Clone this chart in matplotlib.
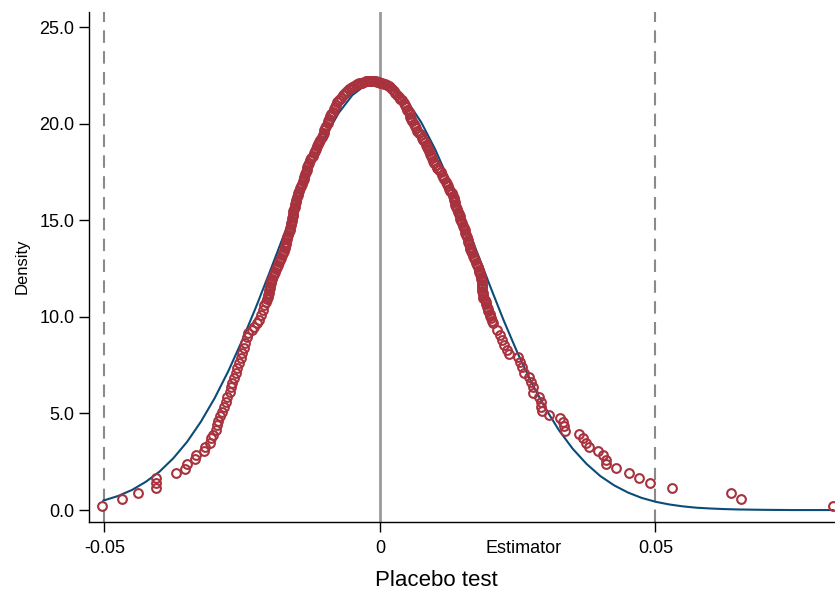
import matplotlib.pyplot as plt
import numpy as np

plt.rcParams['font.family'] = ['Liberation Sans', 'DejaVu Sans']

# placebo estimates (x) and their kernel density (y)
left_x = [-0.0504, -0.0468, -0.0439, -0.0407, -0.0407, -0.0407, -0.0371, -0.0353, -0.0350,
          -0.0336, -0.0333, -0.0319, -0.0317, -0.0309, -0.0306, -0.0303, -0.0298, -0.0296,
          -0.0293, -0.0290, -0.0287, -0.0283, -0.0279, -0.0277, -0.0273, -0.0271, -0.0268,
          -0.0265, -0.0262, -0.0259, -0.0255, -0.0253, -0.0250, -0.0247, -0.0244, -0.0242,
          -0.0239, -0.0233, -0.0229, -0.0224, -0.0219, -0.0215, -0.0213, -0.0210, -0.0207]
left_y = [0.22, 0.55, 0.86, 1.12, 1.38, 1.64, 1.90, 2.12, 2.38,
          2.62, 2.85, 3.05, 3.28, 3.45, 3.71, 3.88, 4.14, 4.40,
          4.62, 4.87, 5.09, 5.35, 5.61, 5.86, 6.12, 6.35, 6.59,
          6.85, 7.08, 7.33, 7.59, 7.85, 8.11, 8.37, 8.63, 8.97,
          9.15, 9.32, 9.49, 9.66, 9.83, 10.09, 10.35, 10.61, 10.78]

# dense central band, left flank up to the peak
core_left_x = [-0.0205, -0.0204, -0.0203, -0.0202, -0.0201, -0.0200, -0.0199, -0.0198, -0.0197,
               -0.0196, -0.0194, -0.0192, -0.0190, -0.0189, -0.0187, -0.0185, -0.0183, -0.0181,
               -0.0179, -0.0177, -0.0175, -0.0174, -0.0173, -0.0172, -0.0171, -0.0170, -0.0169,
               -0.0168, -0.0166, -0.0165, -0.0164, -0.0163, -0.0162, -0.0161, -0.0160, -0.0159,
               -0.0158, -0.0158, -0.0157, -0.0156, -0.0155, -0.0154, -0.0153, -0.0152, -0.0151,
               -0.0149, -0.0148, -0.0147, -0.0145, -0.0143, -0.0141, -0.0139, -0.0138, -0.0137,
               -0.0136, -0.0134, -0.0133, -0.0132, -0.0131, -0.0129, -0.0127, -0.0125, -0.0122,
               -0.0120, -0.0118, -0.0116, -0.0114, -0.0112, -0.0110, -0.0108, -0.0106, -0.0104,
               -0.0102, -0.0101, -0.0099, -0.0097, -0.0095, -0.0094, -0.0092, -0.0090, -0.0088,
               -0.0086, -0.0083, -0.0081, -0.0079, -0.0077, -0.0074, -0.0070, -0.0067, -0.0063,
               -0.0059, -0.0056, -0.0053, -0.0050, -0.0047, -0.0044, -0.0041, -0.0038, -0.0035,
               -0.0032, -0.0029, -0.0026, -0.0023, -0.0020, -0.0017, -0.0014, -0.0011, -0.0008]
core_left_y = [10.90, 11.02, 11.14, 11.26, 11.38, 11.50, 11.62, 11.74, 11.86,
               11.98, 12.10, 12.22, 12.34, 12.46, 12.58, 12.70, 12.82, 12.94,
               13.06, 13.18, 13.30, 13.42, 13.54, 13.66, 13.78, 13.90, 14.02,
               14.14, 14.26, 14.38, 14.50, 14.62, 14.74, 14.86, 14.98, 15.10,
               15.22, 15.34, 15.46, 15.58, 15.70, 15.82, 15.94, 16.06, 16.18,
               16.30, 16.42, 16.54, 16.66, 16.78, 16.90, 17.02, 17.14, 17.26,
               17.38, 17.50, 17.62, 17.74, 17.86, 17.98, 18.10, 18.22, 18.34,
               18.46, 18.58, 18.70, 18.82, 18.94, 19.06, 19.18, 19.30, 19.42,
               19.54, 19.66, 19.78, 19.90, 20.02, 20.14, 20.26, 20.38, 20.50,
               20.62, 20.74, 20.86, 20.98, 21.10, 21.22, 21.34, 21.46, 21.58,
               21.70, 21.78, 21.84, 21.90, 21.95, 22.00, 22.04, 22.08, 22.11,
               22.13, 22.16, 22.19, 22.21, 22.22, 22.23, 22.23, 22.22, 22.20]

# dense central band, right flank from the peak down
core_right_x = [-0.0005, -0.0002, 0.0001, 0.0004, 0.0007, 0.0010, 0.0013, 0.0016, 0.0019,
                0.0022, 0.0025, 0.0028, 0.0031, 0.0034, 0.0037, 0.0040, 0.0043, 0.0046,
                0.0048, 0.0050, 0.0052, 0.0054, 0.0055, 0.0057, 0.0059, 0.0061, 0.0063,
                0.0066, 0.0068, 0.0071, 0.0074, 0.0077, 0.0079, 0.0081, 0.0083, 0.0085,
                0.0087, 0.0089, 0.0091, 0.0093, 0.0095, 0.0097, 0.0099, 0.0101, 0.0104,
                0.0107, 0.0110, 0.0112, 0.0115, 0.0117, 0.0120, 0.0122, 0.0124, 0.0126,
                0.0128, 0.0131, 0.0133, 0.0134, 0.0135, 0.0136, 0.0137, 0.0138, 0.0140,
                0.0141, 0.0143, 0.0145, 0.0146, 0.0148, 0.0149, 0.0151, 0.0153, 0.0154,
                0.0155, 0.0156, 0.0158, 0.0159, 0.0160, 0.0161, 0.0163, 0.0164, 0.0166,
                0.0168, 0.0169, 0.0171, 0.0173, 0.0175, 0.0176, 0.0178, 0.0179, 0.0180,
                0.0182, 0.0183, 0.0184, 0.0185, 0.0185, 0.0186, 0.0186, 0.0186, 0.0187,
                0.0187, 0.0188, 0.0190, 0.0192, 0.0193, 0.0195, 0.0196, 0.0197, 0.0199,
                0.0200, 0.0202, 0.0204]
core_right_y = [22.17, 22.15, 22.13, 22.10, 22.07, 22.03, 21.99, 21.94, 21.88,
                21.80, 21.70, 21.60, 21.50, 21.40, 21.30, 21.20, 21.08, 20.96,
                20.84, 20.72, 20.60, 20.48, 20.36, 20.24, 20.12, 20.00, 19.88,
                19.76, 19.64, 19.52, 19.40, 19.28, 19.16, 19.04, 18.92, 18.80,
                18.68, 18.56, 18.44, 18.32, 18.20, 18.08, 17.96, 17.84, 17.72,
                17.60, 17.48, 17.36, 17.24, 17.12, 17.00, 16.88, 16.76, 16.64,
                16.52, 16.40, 16.28, 16.16, 16.04, 15.92, 15.80, 15.68, 15.56,
                15.44, 15.32, 15.20, 15.08, 14.96, 14.84, 14.72, 14.60, 14.48,
                14.36, 14.24, 14.12, 14.00, 13.88, 13.76, 13.64, 13.52, 13.40,
                13.28, 13.16, 13.04, 12.92, 12.80, 12.68, 12.56, 12.44, 12.32,
                12.20, 12.08, 11.96, 11.84, 11.72, 11.60, 11.48, 11.36, 11.24,
                11.12, 11.00, 10.88, 10.76, 10.64, 10.52, 10.40, 10.28, 10.16,
                10.04, 9.92, 9.80]

right_x = [0.0206, 0.0212, 0.0218, 0.0221, 0.0225, 0.0230, 0.0235, 0.0251, 0.0254, 0.0258,
           0.0261, 0.0271, 0.0274, 0.0277, 0.0278, 0.0289, 0.0292, 0.0293, 0.0295, 0.0306,
           0.0327, 0.0332, 0.0334, 0.0336, 0.0362, 0.0368, 0.0374, 0.0380, 0.0396, 0.0405,
           0.0410, 0.0410, 0.0428, 0.0453, 0.0471, 0.0491, 0.0531, 0.0637, 0.0656, 0.0822]
right_y = [9.66, 9.32, 9.06, 8.80, 8.54, 8.28, 8.06, 7.94, 7.68, 7.42,
           7.11, 6.90, 6.64, 6.35, 6.07, 5.86, 5.61, 5.35, 5.12, 4.92,
           4.78, 4.57, 4.35, 4.10, 3.93, 3.71, 3.48, 3.28, 3.07, 2.85,
           2.59, 2.37, 2.16, 1.90, 1.64, 1.41, 1.12, 0.86, 0.55, 0.22]

# normal density curve
norm_x = [-0.0502, -0.0475, -0.045, -0.0425, -0.040, -0.0375, -0.035, -0.0325, -0.030,
          -0.0275, -0.025, -0.0225, -0.020, -0.0175, -0.015, -0.0125, -0.010, -0.0075,
          -0.005, -0.0025, 0.0, 0.0025, 0.005, 0.0075, 0.010, 0.0125, 0.015, 0.0175,
          0.020, 0.0225, 0.025, 0.0275, 0.030, 0.0325, 0.035, 0.0375, 0.040, 0.0425,
          0.045, 0.0475, 0.050, 0.0525, 0.055, 0.0575, 0.060, 0.0625, 0.065, 0.0675,
          0.070, 0.075, 0.0822]
norm_y = [0.49, 0.73, 1.04, 1.46, 1.99, 2.68, 3.53, 4.57, 5.79,
          7.20, 8.78, 10.50, 12.32, 14.19, 16.02, 17.74, 19.28, 20.55,
          21.48, 22.02, 22.15, 21.85, 21.15, 20.07, 18.69, 17.07, 15.30, 13.44,
          11.59, 9.79, 8.12, 6.61, 5.28, 4.13, 3.17, 2.39, 1.76, 1.28,
          0.91, 0.63, 0.43, 0.29, 0.19, 0.12, 0.08, 0.05, 0.03, 0.02,
          0.01, 0.00, 0.00]

estimator = 0.0261

x = np.array(left_x + core_left_x + core_right_x + right_x)
y = np.array(left_y + core_left_y + core_right_y + right_y)

fig = plt.figure(figsize=(8.35, 5.92), dpi=100)
ax = fig.add_axes([0.1066, 0.1182, 0.8934, 0.8615])

ax.axvline(-0.05, color='#8a8a8a', lw=1.5, ls=(0, (6, 4)), zorder=1)
ax.axvline(0.05, color='#8a8a8a', lw=1.5, ls=(0, (6, 4)), zorder=1)
ax.axvline(0, color='#9a9a9a', lw=2, zorder=1)

ax.plot(norm_x, norm_y, color='#0b4c78', lw=1.5, zorder=2)
ax.plot(x, y, 'o', mfc='none', mec='#a8323e', ms=6.3, mew=1.5, zorder=3)

ax.set_xlim(-0.0528, 0.0826)
ax.set_ylim(-0.62, 25.78)
ax.set_xticks([-0.05, 0, 0.05])
ax.set_xticklabels(['-0.05', '0', '0.05'])
ax.set_xticks([estimator], minor=True)
ax.set_xticklabels(['Estimator'], minor=True)
ax.tick_params(axis='x', which='minor', length=0, pad=13, labelsize=13)
ax.set_yticks([0, 5, 10, 15, 20, 25])
ax.set_yticklabels(['0.0', '5.0', '10.0', '15.0', '20.0', '25.0'])
ax.tick_params(axis='both', which='major', length=7, width=1, labelsize=13, colors='black')
ax.tick_params(axis='x', which='major', pad=6)

for s in ['top', 'right']:
    ax.spines[s].set_visible(False)
for s in ['left', 'bottom']:
    ax.spines[s].set_linewidth(1)

fig.text(22 / 835, 1 - 266 / 592, 'Density', rotation=90, ha='center', va='center', fontsize=12)
fig.text(436 / 835, 1 - 581 / 592, 'Placebo test', ha='center', va='center', fontsize=16)

fig.savefig('out.png', dpi=100)
